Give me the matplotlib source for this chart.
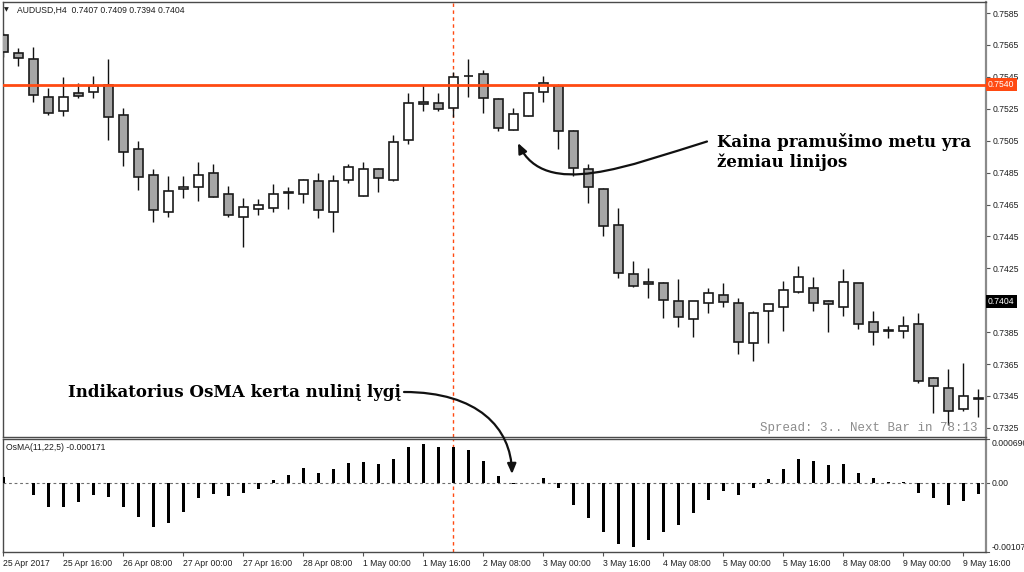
import matplotlib
matplotlib.use("Agg")
import matplotlib.pyplot as plt
from matplotlib.patches import FancyArrowPatch
from matplotlib.path import Path
import numpy as np

# ---------------- data ----------------
opens = [0.75712, 0.75597, 0.75560, 0.75326, 0.75236, 0.75351, 0.75355, 0.75399, 0.75211, 0.74996,
         0.74835, 0.74601, 0.74745, 0.74758, 0.74846, 0.74716, 0.74574, 0.74620, 0.74630, 0.74724,
         0.74714, 0.74797, 0.74605, 0.74804, 0.74703, 0.74873, 0.74804, 0.75054, 0.75294, 0.75284,
         0.75253, 0.75453, 0.75466, 0.75309, 0.75117, 0.75206, 0.75353, 0.75394, 0.75111, 0.74871,
         0.74745, 0.74522, 0.74213, 0.74163, 0.74156, 0.74045, 0.73931, 0.74035, 0.74083, 0.74035,
         0.73780, 0.73983, 0.74010, 0.74104, 0.74125, 0.74045, 0.74010, 0.74156, 0.73912, 0.73857,
         0.73857, 0.73899, 0.73561, 0.73502, 0.73369, 0.73439]
highs = [0.75725, 0.75633, 0.75639, 0.75378, 0.75451, 0.75409, 0.75455, 0.75562, 0.75253, 0.75048,
         0.74871, 0.74831, 0.74829, 0.74918, 0.74902, 0.74768, 0.74689, 0.74683, 0.74779, 0.74758,
         0.74810, 0.74846, 0.74835, 0.74904, 0.74914, 0.74880, 0.75086, 0.75351, 0.75399, 0.75347,
         0.75482, 0.75560, 0.75493, 0.75319, 0.75257, 0.75357, 0.75455, 0.75405, 0.75117, 0.74902,
         0.74755, 0.74626, 0.74296, 0.74254, 0.74163, 0.74183, 0.74045, 0.74125, 0.74156, 0.74066,
         0.73983, 0.74025, 0.74171, 0.74267, 0.74194, 0.74052, 0.74244, 0.74160, 0.73983, 0.73891,
         0.73953, 0.73972, 0.73571, 0.73619, 0.73655, 0.73492]
lows = [0.75576, 0.75518, 0.75294, 0.75211, 0.75205, 0.75319, 0.75316, 0.75054, 0.74893, 0.74741,
        0.74542, 0.74570, 0.74689, 0.74672, 0.74695, 0.74574, 0.74386, 0.74584, 0.74605, 0.74620,
        0.74661, 0.74564, 0.74476, 0.74787, 0.74703, 0.74730, 0.74800, 0.75027, 0.75236, 0.75236,
        0.75196, 0.75326, 0.75225, 0.75111, 0.75117, 0.75206, 0.75294, 0.74996, 0.74829, 0.74661,
        0.74453, 0.74191, 0.74135, 0.74062, 0.73937, 0.73881, 0.73822, 0.73968, 0.74010, 0.73711,
        0.73669, 0.73780, 0.73859, 0.74094, 0.73983, 0.73853, 0.73951, 0.73868, 0.73770, 0.73812,
        0.73812, 0.73530, 0.73345, 0.73268, 0.73358, 0.73317]
closes = [0.75608, 0.75570, 0.75336, 0.75222, 0.75326, 0.75332, 0.75393, 0.75196, 0.74981, 0.74824,
          0.74616, 0.74735, 0.74758, 0.74835, 0.74699, 0.74584, 0.74633, 0.74647, 0.74716, 0.74728,
          0.74804, 0.74616, 0.74797, 0.74887, 0.74871, 0.74814, 0.75044, 0.75284, 0.75278, 0.75247,
          0.75447, 0.75457, 0.75319, 0.75128, 0.75215, 0.75351, 0.75409, 0.75112, 0.74877, 0.74758,
          0.74515, 0.74223, 0.74139, 0.74152, 0.74052, 0.73943, 0.74045, 0.74094, 0.74041, 0.73787,
          0.73972, 0.74025, 0.74114, 0.74194, 0.74035, 0.74027, 0.74163, 0.73899, 0.73853, 0.73861,
          0.73891, 0.73546, 0.73513, 0.73358, 0.73450, 0.73431]
osma = [0.000104, 0.000010, -0.000187, -0.000363, -0.000363, -0.000291, -0.000176, -0.000213, -0.000363, -0.000524,
        -0.000685, -0.000618, -0.000452, -0.000228, -0.000161, -0.000192, -0.000145, -0.000083, 0.000047, 0.000135,
        0.000239, 0.000166, 0.000228, 0.000311, 0.000327, 0.000296, 0.000384, 0.000561, 0.000612, 0.000571,
        0.000571, 0.000519, 0.000353, 0.000109, -0.000010, 0.000003, 0.000078, -0.000067, -0.000337, -0.000535,
        -0.000758, -0.000939, -0.000991, -0.000887, -0.000758, -0.000649, -0.000467, -0.000260, -0.000119, -0.000176,
        -0.000067, 0.000062, 0.000223, 0.000384, 0.000343, 0.000280, 0.000306, 0.000161, 0.000078, 0.000016,
        0.000026, -0.000145, -0.000228, -0.000337, -0.000275, -0.000171]
date_labels = ["25 Apr 2017", "25 Apr 16:00", "26 Apr 08:00", "27 Apr 00:00", "27 Apr 16:00",
               "28 Apr 08:00", "1 May 00:00", "1 May 16:00", "2 May 08:00", "3 May 00:00",
               "3 May 16:00", "4 May 08:00", "5 May 00:00", "5 May 16:00", "8 May 08:00",
               "9 May 00:00", "9 May 16:00"]
date_tick_bars = list(range(0, 66, 4))
price_ticks = [0.7585, 0.7565, 0.7545, 0.7525, 0.7505, 0.7485, 0.7465, 0.7445, 0.7425,
               0.7385, 0.7365, 0.7345, 0.7325]
level_price = 0.7540
bid_price = 0.7404
marker_bar = 30
osma_max = 0.000696
osma_min = -0.00107

# ---------------- figure ----------------
W, H = 1024, 572
fig = plt.figure(figsize=(W / 100, H / 100), dpi=100)
fig.patch.set_facecolor("white")

def fx(x):
    return x / W

def fy(y):
    return 1 - y / H

ax = fig.add_axes([fx(2.7), fy(437), fx(986) - fx(2.7), fy(2) - fy(437)])
ax2 = fig.add_axes([fx(2.7), fy(552), fx(986) - fx(2.7), fy(438.5) - fy(552)])

SMALL = ["Liberation Sans", "DejaVu Sans"]
TXT = "#1e1e1e"
ORANGE = "#FF4A12"

x = np.arange(len(opens))
o = np.array(opens); h = np.array(highs); l = np.array(lows); c = np.array(closes)
bear = c < o
body_bottom = np.minimum(o, c)
body_height = np.abs(c - o)

ax.vlines(x, l, h, color="#111111", lw=1.0, zorder=2)
ax.bar(x, body_height, bottom=body_bottom, width=0.62,
       color=np.where(bear, "#A6A6A6", "#FFFFFF"), edgecolor="#1a1a1a", linewidth=1.2, zorder=3)

ax.set_xlim(-0.05, 65.5)
ax.set_ylim(0.73193, 0.75919)
ax.axhline(level_price, color=ORANGE, lw=2.0, zorder=4)
ax.axvline(marker_bar, color=ORANGE, lw=1.0, ls=(0, (2.5, 2.5)), zorder=1)

ax.yaxis.tick_right()
ax.set_yticks(price_ticks)
ax.set_yticklabels([f"{v:.4f}" for v in price_ticks], fontfamily=SMALL, fontsize=6.2, color=TXT)
ax.tick_params(axis="y", length=3, width=0.8, pad=2, colors="#555555", labelcolor=TXT)
ax.set_xticks([])
for s in ["left", "top", "bottom"]:
    ax.spines[s].set_color("#4a4a4a"); ax.spines[s].set_linewidth(1.0)
ax.spines["right"].set_color("#8a8a8a"); ax.spines["right"].set_linewidth(1.6)

# price labels on right axis
ax.text(1.002, level_price, f"{level_price:.4f}", transform=ax.get_yaxis_transform(),
        ha="left", va="center", fontsize=6.2, fontfamily=SMALL, color="white", clip_on=False,
        zorder=10, bbox=dict(boxstyle="square,pad=0.25", fc=ORANGE, ec="none"))
ax.text(1.002, bid_price, f"{bid_price:.4f}", transform=ax.get_yaxis_transform(),
        ha="left", va="center", fontsize=6.2, fontfamily=SMALL, color="white", clip_on=False,
        zorder=10, bbox=dict(boxstyle="square,pad=0.25", fc="black", ec="none"))

# ---------------- OsMA panel ----------------
ax2.bar(x, osma, width=0.2, color="black", zorder=3)
ax2.axhline(0, color="#6e6e6e", lw=0.8, ls=(0, (2.5, 2.5)), zorder=2)
ax2.axvline(marker_bar, color=ORANGE, lw=1.0, ls=(0, (2.5, 2.5)), zorder=1)
ax2.set_xlim(-0.05, 65.5)
ax2.set_ylim(osma_min, osma_max)
ax2.set_yticks([])
ax2.set_xticks(date_tick_bars)
ax2.set_xticklabels(date_labels, fontfamily=SMALL, fontsize=6.2, color=TXT, ha="left")
ax2.tick_params(axis="x", length=3, width=0.8, pad=2, colors="#555555", labelcolor=TXT)
for s in ax2.spines.values():
    s.set_color("#4a4a4a"); s.set_linewidth(1.0)
ax2.spines["right"].set_color("#8a8a8a"); ax2.spines["right"].set_linewidth(1.6)
yt = ax2.get_yaxis_transform()
for val, lab, va in [(osma_max, "0.000696", "top"), (0.0, "0.00", "center"), (osma_min, "-0.00107", "bottom")]:
    ax2.plot([1.0, 1.0035], [val, val], transform=yt, color="#555555", lw=0.8, clip_on=False)
    ax2.text(1.006, val, lab, transform=yt, ha="left", va=va, fontsize=6.2,
             fontfamily=SMALL, color=TXT, clip_on=False)

# ---------------- texts ----------------
fig.text(fx(4), fy(10), "\u25BC", fontsize=4.5, fontfamily=["DejaVu Sans"], color=TXT, va="center", ha="left")
fig.text(fx(17), fy(10), "AUDUSD,H4  0.7407 0.7409 0.7394 0.7404", fontsize=6.2,
         fontfamily=SMALL, color=TXT, va="center", ha="left")
fig.text(fx(6.5), fy(447.7), "OsMA(11,22,5) -0.000171", fontsize=6.2,
         fontfamily=SMALL, color=TXT, va="center", ha="left")
fig.text(fx(977), fy(431.5), "Spread: 3.. Next Bar in 78:13", fontsize=9,
         fontfamily=["Liberation Mono", "DejaVu Sans Mono"], color="#8c8c8c", ha="right", va="baseline")

SERIF = ["DejaVu Serif"]
fig.text(fx(717), fy(146.8), "Kaina pramušimo metu yra", fontsize=12, fontweight="bold",
         fontfamily=SERIF, color="black", ha="left", va="baseline")
fig.text(fx(717), fy(166.8), "žemiau linijos", fontsize=12, fontweight="bold",
         fontfamily=SERIF, color="black", ha="left", va="baseline")
fig.text(fx(68), fy(396.7), "Indikatorius OsMA kerta nulinį lygį", fontsize=12, fontweight="bold",
         fontfamily=SERIF, color="black", ha="left", va="baseline")

def curve_arrow(pts):
    verts = [(fx(px), fy(py)) for px, py in pts]
    path = Path(verts, [Path.MOVETO, Path.CURVE4, Path.CURVE4, Path.CURVE4])
    arr = FancyArrowPatch(path=path, arrowstyle="-|>,head_length=6,head_width=2.6",
                          transform=fig.transFigure, color="#111111", lw=1.6)
    fig.add_artist(arr)

curve_arrow([(707, 141.5), (630, 165), (545, 200), (518, 143)])
curve_arrow([(404, 392), (478, 392), (511, 428), (512, 474)])

fig.savefig("out.png", dpi=100, facecolor="white")
